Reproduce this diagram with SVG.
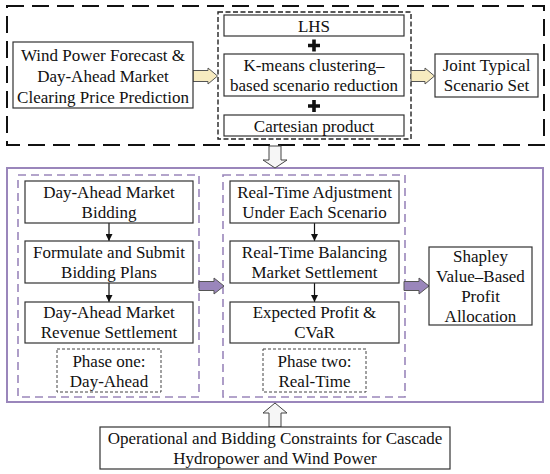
<svg xmlns="http://www.w3.org/2000/svg" width="550" height="474" viewBox="0 0 550 474">
<defs>
<marker id="ah" viewBox="0 0 10 10" refX="10" refY="5" markerWidth="7" markerHeight="7" orient="auto" markerUnits="userSpaceOnUse">
<path d="M0,0 L10,5 L0,10 z" fill="#111"/>
</marker>
<style>
.box{fill:#fff;stroke:#333;stroke-width:1.2}
.t{font-family:"Liberation Serif","Times New Roman",serif;font-size:17px;fill:#111;text-anchor:middle}
.outer{fill:none;stroke:#111;stroke-width:2;stroke-dasharray:17 8}
.inner{fill:none;stroke:#222;stroke-width:1.4;stroke-dasharray:5 2.5}
.pdash{fill:none;stroke:#9a86bb;stroke-width:1.6;stroke-dasharray:8 5}
.psolid{fill:none;stroke:#9a86bb;stroke-width:2}
.phase{fill:#fff;stroke:#444;stroke-width:1;stroke-dasharray:3 2}
.ya{fill:#f7ebc0;stroke:#555;stroke-width:1}
.pa{fill:#9a86bb;stroke:#555;stroke-width:1}
.wa{fill:#f6f6f6;stroke:#444;stroke-width:1}
.ln{stroke:#111;stroke-width:1.2;fill:none}
</style>
</defs>
<rect width="550" height="474" fill="#fff"/>

<g id="containers">
<rect class="outer" x="7" y="6" width="537" height="139"/>
<rect class="inner" x="218" y="12" width="193" height="127"/>
<rect class="psolid" x="7" y="168" width="536" height="234"/>
<rect class="pdash" x="18" y="175" width="181" height="222"/>
<rect class="pdash" x="223" y="175" width="182" height="222"/>
</g>

<g id="connectors">
<path class="ya" d="M193,70.5 H208 V68 L217.5,76 L208,84 V81.5 H193 z"/>
<path class="ya" d="M411,70.5 H425 V68 L434.5,76 L425,84 V81.5 H411 z"/>
<path class="wa" d="M269,146 H281 V160 H287 L275,168 L263,160 H269 z"/>
<path class="wa" d="M269,427 V413 H263 L275,403 L287,413 H281 V427 z"/>
<path class="pa" d="M199,281.5 H214 V278 L224,286 L214,294 V290.5 H199 z"/>
<path class="pa" d="M404,281.5 H419 V278 L429,286 L419,294 V290.5 H404 z"/>
<line class="ln" x1="109" y1="223" x2="109" y2="241" marker-end="url(#ah)"/>
<line class="ln" x1="109" y1="283" x2="109" y2="302" marker-end="url(#ah)"/>
<line class="ln" x1="314.5" y1="223" x2="314.5" y2="241" marker-end="url(#ah)"/>
<line class="ln" x1="314.5" y1="283" x2="314.5" y2="302" marker-end="url(#ah)"/>
<path d="M308,45.5 H320 M314,39.5 V51.5" stroke="#111" stroke-width="3.6"/>
<path d="M308,106 H320 M314,100 V112" stroke="#111" stroke-width="3.6"/>
</g>

<g id="n-forecast">
<rect class="box" x="13" y="42" width="180" height="66"/>
<text class="t" x="103" y="61">Wind Power Forecast &amp;</text>
<text class="t" x="103" y="82">Day-Ahead Market</text>
<text class="t" x="103" y="103">Clearing Price Prediction</text>
</g>
<g id="n-lhs">
<rect class="box" x="224" y="15" width="180" height="21"/>
<text class="t" x="314" y="32">LHS</text>
</g>
<g id="n-kmeans">
<rect class="box" x="224" y="54" width="180" height="42"/>
<text class="t" x="314" y="71">K-means clustering–</text>
<text class="t" x="314" y="91">based scenario reduction</text>
</g>
<g id="n-cartesian">
<rect class="box" x="224" y="115" width="180" height="21"/>
<text class="t" x="314" y="132">Cartesian product</text>
</g>
<g id="n-joint">
<rect class="box" x="435" y="54" width="103" height="43"/>
<text class="t" x="486.5" y="71">Joint Typical</text>
<text class="t" x="486.5" y="91">Scenario Set</text>
</g>

<g id="n-da-bid">
<rect class="box" x="25" y="181" width="168" height="42"/>
<text class="t" x="109" y="198">Day-Ahead Market</text>
<text class="t" x="109" y="218">Bidding</text>
</g>
<g id="n-formulate">
<rect class="box" x="25" y="241" width="168" height="42"/>
<text class="t" x="109" y="258">Formulate and Submit</text>
<text class="t" x="109" y="278">Bidding Plans</text>
</g>
<g id="n-da-rev">
<rect class="box" x="25" y="302" width="168" height="41"/>
<text class="t" x="109" y="318">Day-Ahead Market</text>
<text class="t" x="109" y="338">Revenue Settlement</text>
</g>
<g id="n-phase1">
<rect class="phase" x="57" y="349" width="104" height="43"/>
<text class="t" x="109" y="367">Phase one:</text>
<text class="t" x="109" y="387">Day-Ahead</text>
</g>

<g id="n-rt-adj">
<rect class="box" x="230" y="181" width="169" height="42"/>
<text class="t" x="314.5" y="198">Real-Time Adjustment</text>
<text class="t" x="314.5" y="218">Under Each Scenario</text>
</g>
<g id="n-rt-bal">
<rect class="box" x="230" y="241" width="169" height="42"/>
<text class="t" x="314.5" y="258">Real-Time Balancing</text>
<text class="t" x="314.5" y="278">Market Settlement</text>
</g>
<g id="n-profit">
<rect class="box" x="230" y="302" width="169" height="41"/>
<text class="t" x="314.5" y="318">Expected Profit &amp;</text>
<text class="t" x="314.5" y="338">CVaR</text>
</g>
<g id="n-phase2">
<rect class="phase" x="263" y="349" width="103" height="43"/>
<text class="t" x="314.5" y="367">Phase two:</text>
<text class="t" x="314.5" y="387">Real-Time</text>
</g>

<g id="n-shapley">
<rect class="box" x="429" y="247" width="103" height="78"/>
<text class="t" x="480.5" y="262">Shapley</text>
<text class="t" x="480.5" y="282">Value–Based</text>
<text class="t" x="480.5" y="302">Profit</text>
<text class="t" x="480.5" y="322">Allocation</text>
</g>

<g id="n-constraints">
<rect class="box" x="100" y="427" width="350" height="42"/>
<text class="t" x="275" y="444">Operational and Bidding Constraints for Cascade</text>
<text class="t" x="275" y="464">Hydropower and Wind Power</text>
</g>
</svg>
